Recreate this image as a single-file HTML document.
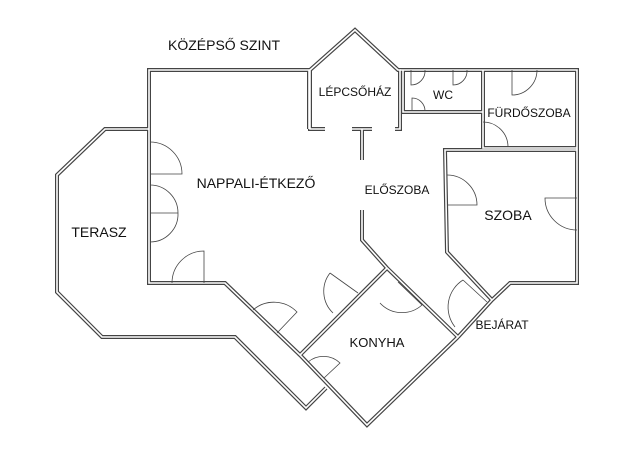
<!DOCTYPE html>
<html><head><meta charset="utf-8"><style>
html,body{margin:0;padding:0;background:#fff;width:640px;height:459px;overflow:hidden}
text{font-family:"Liberation Sans",sans-serif;fill:#111}
</style></head><body>
<svg width="640" height="459" viewBox="0 0 640 459" xmlns="http://www.w3.org/2000/svg">
<defs>
<g id="walls">
<polyline points="309,129 309,70 149,70 149,283 225,283 300,355"/>
<polyline points="149,129 105,129 57,175 57,292 102,337 235,337 306,408 326,388"/>
<polyline points="325,129 310,129 310,70 355,30 398,70 400,70 400,129 395,129"/>
<polyline points="352,129 372,129"/><polyline points="362,129 362,160"/>
<polyline points="400,70 577,70 577,283 510,283 492,300 458,337"/>
<polyline points="403,70 403,112 483,112"/>
<polyline points="483,70 483,148 577,148"/>
<polyline points="577,150 445,150 447,252 492,300"/>
<polyline points="362,210 362,240 387,268 458,337"/>
<polyline points="387,268 300,355 367,425 458,337"/>
</g>
</defs>
<g fill="none" stroke="#444" stroke-width="4" stroke-linejoin="miter"><use href="#walls"/></g>
<g fill="none" stroke="#fff" stroke-width="1.6"><use href="#walls"/></g>
<g fill="none" stroke="#444" stroke-width="0.8">
<path d="M150,142 A32,32 0 0 1 182,174 L150,174"/>
<path d="M150,185 A28,28 0 0 1 178,213 A28,28 0 0 1 150,242 M150,213 L178,213"/>
<path d="M172,283 A32,32 0 0 1 204,251 L204,283"/>
<path d="M253,310 A32,32 0 0 1 297,312 L277,333"/>
<path d="M330,273 L358,293 M330,273 A30,30 0 0 0 333,313"/>
<path d="M380,303 A30,30 0 0 0 422,305 L398,282"/>
<path d="M308,362 A24,24 0 0 1 340,363 L324,378"/>
<path d="M463,280 L487,302 M463,280 A32,32 0 0 0 455,327"/>
<path d="M447,175 A30,30 0 0 1 477,205 L447,205"/>
<path d="M577,198 L545,198 A32,32 0 0 0 577,230"/>
<path d="M512,70 L512,95 A25,25 0 0 0 537,70"/>
<path d="M483,122 A25,25 0 0 1 508,147"/>
<path d="M411,70 L411,85 A14,14 0 0 0 425,70"/>
<path d="M453,70 L453,85 A14,14 0 0 0 467,70"/>
<path d="M412,110 L412,98 A13,13 0 0 1 425,111"/>
</g>
<text x="224" y="50" font-size="14" text-anchor="middle">KÖZÉPSŐ SZINT</text>
<text x="256" y="188" font-size="14" text-anchor="middle">NAPPALI-ÉTKEZŐ</text>
<text x="99" y="237" font-size="14" text-anchor="middle">TERASZ</text>
<text x="355" y="96" font-size="12" text-anchor="middle">LÉPCSŐHÁZ</text>
<text x="443" y="99" font-size="12" text-anchor="middle">WC</text>
<text x="529" y="117" font-size="12" text-anchor="middle">FÜRDŐSZOBA</text>
<text x="397" y="194" font-size="12" text-anchor="middle">ELŐSZOBA</text>
<text x="508" y="220" font-size="14" text-anchor="middle">SZOBA</text>
<text x="502" y="329" font-size="12" text-anchor="middle">BEJÁRAT</text>
<text x="377" y="347" font-size="13" text-anchor="middle">KONYHA</text>
</svg>
</body></html>
